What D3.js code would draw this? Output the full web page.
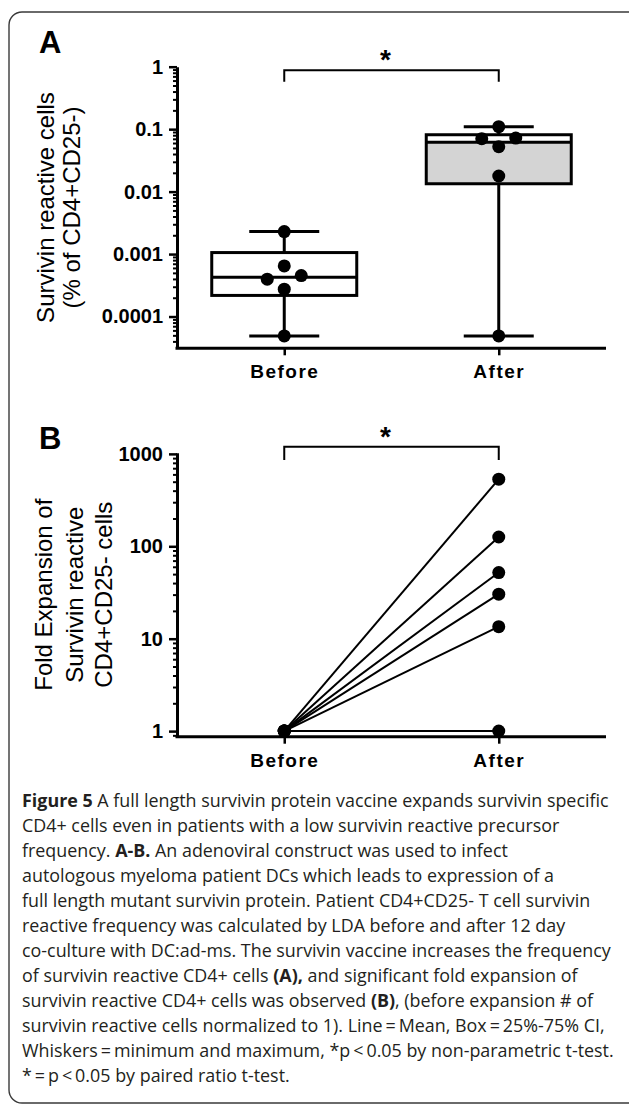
<!DOCTYPE html>
<html lang="en">
<head>
<meta charset="UTF-8">
<title>Figure 5</title>
<style>
  html, body { margin: 0; padding: 0; background: #fff; }
  svg { display: block; }
  .axis text { font-family: "Liberation Sans", Arial, sans-serif; font-weight: bold; font-size: 20px; fill: #000; }
  .axis path, .axis line { stroke: #000; }
</style>
</head>
<body>
<div id="main"></div>
<script src="https://cdn.jsdelivr.net/npm/d3@7/dist/d3.min.js"></script>
<script>
// ---------- data ----------
const groups = ['Before', 'After'];
// panel A: survivin reactive cells (% of CD4+CD25-)
const beforeFreq = [0.00229, 0.000646, 0.000453, 0.000397, 0.000274, 0.000049];
const afterFreq  = [0.1096, 0.072, 0.0705, 0.0525, 0.0178, 0.000049];
const ticksA = [1, 0.1, 0.01, 0.001, 0.0001];
const tickLabelsA = ['1', '0.1', '0.01', '0.001', '0.0001'];
// panel B: fold expansion, before normalised to 1
const foldBefore = [1, 1, 1, 1, 1, 1];
const foldAfter  = [533, 126, 52, 30.3, 13.5, 1];
const ticksB = [1, 10, 100, 1000];
const tickLabelsB = ['1', '10', '100', '1000'];

const titleA = ['Survivin reactive cells', '(% of CD4+CD25-)'];
const titleB = ['Fold Expansion of', 'Survivin reactive', 'CD4+CD25- cells'];

const caption = [
  [['Figure 5', true], [' A full length survivin protein vaccine expands survivin specific', false]],
  [['CD4+ cells even in patients with a low survivin reactive precursor', false]],
  [['frequency. ', false], ['A-B.', true], [' An adenoviral construct was used to infect', false]],
  [['autologous myeloma patient DCs which leads to expression of a', false]],
  [['full length mutant survivin protein. Patient CD4+CD25- T cell survivin', false]],
  [['reactive frequency was calculated by LDA before and after 12 day', false]],
  [['co-culture with DC:ad-ms. The survivin vaccine increases the frequency', false]],
  [['of survivin reactive CD4+ cells ', false], ['(A),', true], [' and significant fold expansion of', false]],
  [['survivin reactive CD4+ cells was observed ', false], ['(B)', true], [', (before expansion # of', false]],
  [['survivin reactive cells normalized to 1). Line\u2009=\u2009Mean, Box\u2009=\u200925%-75% CI,', false]],
  [['Whiskers\u2009=\u2009minimum and maximum, *p\u2009<\u20090.05 by non-parametric t-test.', false]],
  [['*\u2009=\u2009p\u2009<\u20090.05 by paired ratio t-test.', false]]
];

// ---------- container ----------
const width = 629, height = 1105;
const svg = d3.select('#main').append('svg')
  .attr('width', width).attr('height', height)
  .attr('viewBox', `0 0 ${width} ${height}`);

// frame round the figure
svg.append('rect')
  .attr('x', 9).attr('y', 12).attr('width', 660).attr('height', 1091)
  .attr('rx', 13).attr('fill', 'none').attr('stroke', '#3a3a3a').attr('stroke-width', 1.4);

const font = '"Liberation Sans", Arial, sans-serif';
const x = d3.scalePoint().domain(groups).range([177, 606]).padding(0.5);

function minorTicks(dom) {
  const out = [];
  for (let e = Math.floor(Math.log10(dom[0])); e <= Math.ceil(Math.log10(dom[1])); e++) {
    for (let m = 2; m <= 9; m++) {
      const v = m * Math.pow(10, e);
      if (v >= dom[0] && v <= dom[1]) out.push(v);
    }
  }
  return out;
}

function drawAxes(y, majors, labels, titleLines, titleX, letter, letterY) {
  const bottom = y.range()[0];
  // minor ticks
  svg.append('g').attr('class', 'axis').attr('transform', 'translate(177,0)')
    .call(d3.axisLeft(y).tickValues(minorTicks(y.domain())).tickSize(4).tickFormat(''))
    .call(g => g.select('.domain').remove())
    .selectAll('line').attr('stroke-width', 2);
  // major ticks
  const ya = svg.append('g').attr('class', 'axis').attr('transform', 'translate(177,0)')
    .call(d3.axisLeft(y).tickValues(majors).tickFormat((d, i) => labels[i])
      .tickSize(8).tickSizeOuter(0).tickPadding(6));
  ya.select('.domain').attr('stroke-width', 3);
  ya.selectAll('line').attr('stroke-width', 2.5);
  // x axis
  const xa = svg.append('g').attr('class', 'axis').attr('transform', `translate(0,${bottom})`)
    .call(d3.axisBottom(x).tickSize(7).tickSizeOuter(0));
  xa.select('.domain').attr('stroke-width', 3).attr('d', 'M175.5,0H606');
  xa.selectAll('line').attr('stroke-width', 2.5);
  xa.selectAll('text').attr('y', 30).attr('dy', 0)
    .style('font-size', '19px').style('letter-spacing', '1.5px');
  // axis title
  const cy = (y.range()[0] + y.range()[1]) / 2;
  titleLines.forEach((t, i) => {
    svg.append('text')
      .attr('transform', `translate(${titleX[i]},${cy}) rotate(-90)`)
      .attr('text-anchor', 'middle')
      .attr('font-family', font).attr('font-size', 24).attr('fill', '#000')
      .text(t);
  });
  // panel letter
  svg.append('text').attr('x', 39).attr('y', letterY)
    .attr('font-family', font).attr('font-weight', 'bold').attr('font-size', 31)
    .text(letter);
}

function bracket(yTop, drop) {
  const x0 = x('Before'), x1 = x('After');
  svg.append('path')
    .attr('d', `M${x0},${yTop + drop}V${yTop}H${x1}V${yTop + drop}`)
    .attr('fill', 'none').attr('stroke', '#000').attr('stroke-width', 2);
  svg.append('text')
    .attr('x', (x0 + x1) / 2 - 6).attr('y', yTop - 1)
    .attr('text-anchor', 'middle')
    .attr('font-family', font).attr('font-weight', 'bold').attr('font-size', 28)
    .text('*');
}

// quartiles, (n+1) method
function quart(s, p) {
  let pos = (s.length + 1) * p - 1;
  pos = Math.max(0, Math.min(s.length - 1, pos));
  const lo = Math.floor(pos), hi = Math.ceil(pos);
  return s[lo] + (pos - lo) * (s[hi] - s[lo]);
}

// simple dodge so dots at close heights sit side by side
function dodge(ys, minDist, step) {
  const order = d3.range(ys.length).sort((a, b) => ys[a] - ys[b]);
  const off = [], placed = [];
  order.forEach(i => {
    for (let k = 0; ; k++) {
      const dx = k === 0 ? 0 : (k % 2 ? 1 : -1) * Math.ceil(k / 2) * step;
      if (placed.every(p => Math.hypot(p.dx - dx, p.y - ys[i]) >= minDist)) {
        off[i] = dx; placed.push({ dx, y: ys[i] }); break;
      }
    }
  });
  return off;
}

// ================= panel A =================
const yA = d3.scaleLog().domain([3.1e-5, 1]).range([348.3, 66.7]);
drawAxes(yA, ticksA, tickLabelsA, titleA, [54, 80], 'A', 52.7);
bracket(70.3, 11.5);

const boxW = 145, capW = 70;
[[groups[0], beforeFreq, '#ffffff'], [groups[1], afterFreq, '#d4d4d4']].forEach(([name, vals, fill]) => {
  const s = vals.slice().sort(d3.ascending);
  const q1 = quart(s, 0.25), q3 = quart(s, 0.75), med = d3.median(s);
  const lo = s[0], hi = s[s.length - 1];
  const cx = x(name);
  const g = svg.append('g');
  g.append('line').attr('x1', cx).attr('x2', cx).attr('y1', yA(hi)).attr('y2', yA(lo))
    .attr('stroke', '#000').attr('stroke-width', 3);
  [lo, hi].forEach(v => g.append('line')
    .attr('x1', cx - capW / 2).attr('x2', cx + capW / 2).attr('y1', yA(v)).attr('y2', yA(v))
    .attr('stroke', '#000').attr('stroke-width', 3));
  g.append('rect').attr('x', cx - boxW / 2).attr('width', boxW)
    .attr('y', yA(q3)).attr('height', yA(med) - yA(q3)).attr('fill', '#fff');
  g.append('rect').attr('x', cx - boxW / 2).attr('width', boxW)
    .attr('y', yA(med)).attr('height', yA(q1) - yA(med)).attr('fill', fill);
  g.append('rect').attr('x', cx - boxW / 2).attr('width', boxW)
    .attr('y', yA(q3)).attr('height', yA(q1) - yA(q3))
    .attr('fill', 'none').attr('stroke', '#000').attr('stroke-width', 3);
  g.append('line').attr('x1', cx - boxW / 2).attr('x2', cx + boxW / 2)
    .attr('y1', yA(med)).attr('y2', yA(med)).attr('stroke', '#000').attr('stroke-width', 3);
  const ys = vals.map(v => yA(v));
  const off = dodge(ys, 18, 17);
  g.selectAll('circle').data(vals).join('circle')
    .attr('cx', (d, i) => cx + off[i]).attr('cy', d => yA(d)).attr('r', 6.5).attr('fill', '#000');
});

// ================= panel B =================
const yB = d3.scaleLog().domain([0.87, 1030]).range([736.7, 452.7]);
drawAxes(yB, ticksB, tickLabelsB, titleB, [52, 83, 112], 'B', 449);
bracket(446.7, 13.3);

const pairs = foldBefore.map((b, i) => [b, foldAfter[i]]);
svg.append('g').selectAll('line').data(pairs).join('line')
  .attr('x1', x('Before')).attr('y1', d => yB(d[0]))
  .attr('x2', x('After')).attr('y2', d => yB(d[1]))
  .attr('stroke', '#000').attr('stroke-width', 2);
svg.append('g').selectAll('circle').data(foldBefore).join('circle')
  .attr('cx', x('Before')).attr('cy', d => yB(d)).attr('r', 6.5).attr('fill', '#000');
svg.append('g').selectAll('circle').data(foldAfter).join('circle')
  .attr('cx', x('After')).attr('cy', d => yB(d)).attr('r', 6.5).attr('fill', '#000');

// ================= caption =================
const capG = svg.append('g').attr('font-family', '"Open Sans", sans-serif')
  .attr('font-size', 18).attr('fill', '#231f20');
const lines = capG.selectAll('text').data(caption).join('text')
  .attr('x', 0).attr('y', (d, i) => 807 + i * 25);
lines.selectAll('tspan').data(d => d).join('tspan')
  .attr('font-weight', d => d[1] ? 'bold' : null)
  .text(d => d[0]);
const maxW = d3.max(lines.nodes(), n => n.getComputedTextLength());
const k = 592 / maxW;
capG.attr('transform', `translate(22,0) scale(${k},1)`);
</script>
</body>
</html>
